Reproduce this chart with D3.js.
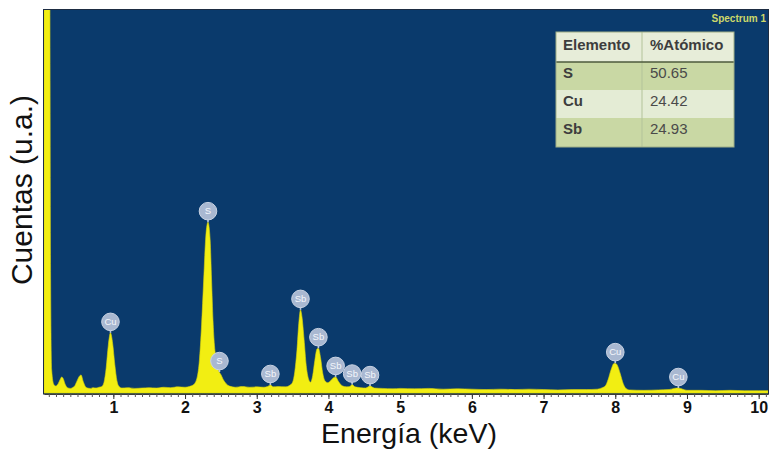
<!DOCTYPE html>
<html><head><meta charset="utf-8">
<script src="https://cdn.jsdelivr.net/npm/d3@7"></script>
<style>
body{margin:0;background:#fff;}
svg{display:block;font-family:"Liberation Sans",Arial,sans-serif;}
</style>
</head><body>
<svg id="c" width="776" height="450"></svg>
<script>
// ---- data ----
const energy = [0.033,0.11,0.125,0.14,0.17,0.20,0.23,0.26,0.28,0.30,0.33,0.36,0.40,0.43,0.46,0.49,0.52,0.55,0.58,0.61,0.64,0.68,0.72,0.76,0.80,0.84,0.87,0.90,0.93,0.96,0.99,1.02,1.05,1.08,1.12,1.2,1.3,1.4,1.5,1.6,1.7,1.8,1.9,2.0,2.06,
2.12,2.17,2.20,2.23,2.26,2.29,2.32,2.35,2.37,2.39,2.41,2.44,2.47,2.50,2.53,2.57,2.62,2.7,2.8,2.9,3.0,3.1,3.15,3.19,3.23,3.3,3.4,3.46,
3.50,3.53,3.56,3.59,3.61,3.63,3.66,3.69,3.72,3.75,3.78,3.81,3.84,3.86,3.89,3.92,3.95,3.99,4.03,4.07,4.10,4.14,4.19,4.25,4.30,4.33,4.37,4.45,4.52,4.58,4.64,
4.75,4.9,5.0,5.2,5.4,5.6,5.8,6.0,6.2,6.4,6.6,6.8,7.0,7.2,7.4,7.6,7.75,7.82,7.86,7.90,7.94,7.98,8.00,8.03,8.07,8.11,8.15,8.20,8.4,8.6,8.75,8.82,8.88,8.94,9.0,9.2,9.4,9.6,9.8,10.0,10.13];
const counts = [1300,1300,300,60,22,18,24,36,42,38,22,14,12,14,18,30,42,47,30,17,13,12,14,13,15,17,28,65,125,157,130,75,32,17,13,14,12,13,14,13,15,14,16,15,17,
22,42,85,175,295,410,446,400,295,190,125,85,58,48,36,25,18,15,17,15,16,15,17,21,16,17,16,20,
28,55,110,190,217,200,140,72,38,28,45,85,115,117,92,52,32,27,32,40,42,30,19,16,17,22,16,14,13,18,13,
12,11,12,11,12,10,11,10,9,10,9,10,9,8,9,9,10,14,18,35,60,77,78,72,50,25,12,8,7,8,9,12,13,10,7,7,6,7,6,6,6];

const peakLabels   = ["Cu","S","S","Sb","Sb","Sb","Sb","Sb","Sb","Cu","Cu"];
const peakEnergies = [0.96,2.32,2.48,3.19,3.61,3.86,4.10,4.33,4.58,8.00,8.88];

const xTickLabels = [1,2,3,4,5,6,7,8,9,10];

const tableHeaders  = ["Elemento","%Atómico"];
const tableElements = ["S","Cu","Sb"];
const tableValues   = ["50.65","24.42","24.93"];

// ---- layout ----
const svg = d3.select("#c");
const plot = {left:44, top:10, right:768, bottom:393};
const x = d3.scaleLinear().domain([0.033,10.13]).range([plot.left,plot.right]);
const y = d3.scaleLinear().domain([0,1000]).range([plot.bottom,plot.top]);

const BLUE = "#0a3a6c", YELLOW = "#f2ee12";

svg.append("defs").append("clipPath").attr("id","pc")
  .append("rect").attr("x",plot.left).attr("y",plot.top)
  .attr("width",plot.right-plot.left).attr("height",plot.bottom-plot.top+1);

svg.append("rect").attr("x",plot.left-0.5).attr("y",plot.top-0.5)
  .attr("width",plot.right-plot.left+1).attr("height",plot.bottom-plot.top+1.5)
  .attr("fill",BLUE).attr("stroke","#1d2c42").attr("stroke-width",1);

const pts = energy.map((e,i)=>({e, c:counts[i]}));
const area = d3.area().x(d=>x(d.e)).y0(y(0)).y1(d=>y(d.c)).curve(d3.curveMonotoneX);
svg.append("path").datum(pts).attr("clip-path","url(#pc)")
  .attr("d",area).attr("fill",YELLOW).attr("stroke","#d8d40a").attr("stroke-width",0.6);

// value at energy (linear interpolation)
const bis = d3.bisector(d=>d.e).left;
function valAt(e){
  const i = bis(pts,e);
  if(i<=0) return pts[0].c;
  if(i>=pts.length) return pts[pts.length-1].c;
  const a=pts[i-1], b=pts[i];
  return a.c + (b.c-a.c)*(e-a.e)/(b.e-a.e);
}

// peak labels
const lab = svg.append("g");
peakLabels.forEach((t,i)=>{
  const px = x(peakEnergies[i]);
  const py = y(valAt(peakEnergies[i]));
  const cy = py - 11;
  const g = lab.append("g");
  g.append("line").attr("x1",px).attr("x2",px).attr("y1",cy+7).attr("y2",py)
    .attr("stroke","#b9c6db").attr("stroke-width",1.6);
  g.append("circle").attr("cx",px).attr("cy",cy).attr("r",8.8)
    .attr("fill","#a9b8d1").attr("stroke","#c9d3e3").attr("stroke-width",1);
  g.append("text").attr("x",px).attr("y",cy+3.3).attr("text-anchor","middle")
    .attr("font-size",9.5).attr("fill","#f4f6fb").text(t);
});

// axes
const axisY = plot.bottom + 1;
const minor = d3.range(1,102).map(d=>d/10).filter(v=>x(v)<=plot.right);
svg.append("g").attr("transform",`translate(0,${axisY})`)
  .call(d3.axisBottom(x).tickValues(minor).tickSize(3).tickSizeOuter(0).tickFormat(""))
  .call(g=>{g.select(".domain").attr("stroke","#3a3a3a").attr("stroke-width",1.2);
            g.selectAll(".tick line").attr("stroke","#555");});
svg.append("g").attr("transform",`translate(0,${axisY})`)
  .call(d3.axisBottom(x).tickValues(xTickLabels).tickSize(5).tickPadding(3).tickFormat(d3.format("d")))
  .call(g=>{g.select(".domain").remove();
            g.selectAll(".tick line").attr("stroke","#333");
            g.selectAll("text").attr("font-size",16).attr("font-weight","bold")
              .attr("fill","#111").attr("font-family","'Liberation Sans',Arial,sans-serif");});

// axis titles
svg.append("text").attr("x",409).attr("y",443).attr("text-anchor","middle")
  .attr("font-size",28.5).attr("fill","#111").text("Energía (keV)");
svg.append("text").attr("transform","translate(32,190) rotate(-90)").attr("text-anchor","middle")
  .attr("font-size",30).attr("fill","#111").text("Cuentas (u.a.)");

// Spectrum title
svg.append("text").attr("x",766).attr("y",22).attr("text-anchor","end")
  .attr("font-size",10).attr("font-weight","bold").attr("fill","#cdd86a").text("Spectrum 1");

// table
const tb = {left:556, split:642, right:734};
const rowEdges = [32,62,90,118,147];
const rowFill = ["#e7edd9","#c9d8a4","#e4ecd5","#c9d8a4"];
const tg = svg.append("g");
rowFill.forEach((f,i)=>{
  tg.append("rect").attr("x",tb.left).attr("y",rowEdges[i]).attr("width",tb.right-tb.left)
    .attr("height",rowEdges[i+1]-rowEdges[i]).attr("fill",f);
});
tg.append("line").attr("x1",tb.split).attr("x2",tb.split).attr("y1",rowEdges[0]).attr("y2",rowEdges[4])
  .attr("stroke","#b3c39a").attr("stroke-width",1);
tg.append("line").attr("x1",tb.left).attr("x2",tb.right).attr("y1",62).attr("y2",62)
  .attr("stroke","#4d5a3c").attr("stroke-width",1.5);
tg.append("rect").attr("x",tb.left).attr("y",rowEdges[0]).attr("width",tb.right-tb.left)
  .attr("height",rowEdges[4]-rowEdges[0]).attr("fill","none").attr("stroke","#9fae86").attr("stroke-width",1);
const baselines = [50,78,106,134];
tableHeaders.forEach((h,j)=>{
  tg.append("text").attr("x",j===0?563:650).attr("y",baselines[0]).attr("font-size",15)
    .attr("font-weight","bold").attr("fill","#3d3d3d").text(h);
});
tableElements.forEach((el,i)=>{
  tg.append("text").attr("x",563).attr("y",baselines[i+1]).attr("font-size",15)
    .attr("font-weight","bold").attr("fill","#3d3d3d").text(el);
  tg.append("text").attr("x",650).attr("y",baselines[i+1]).attr("font-size",15)
    .attr("fill","#4a4a4a").text(tableValues[i]);
});
</script>
</body></html>
